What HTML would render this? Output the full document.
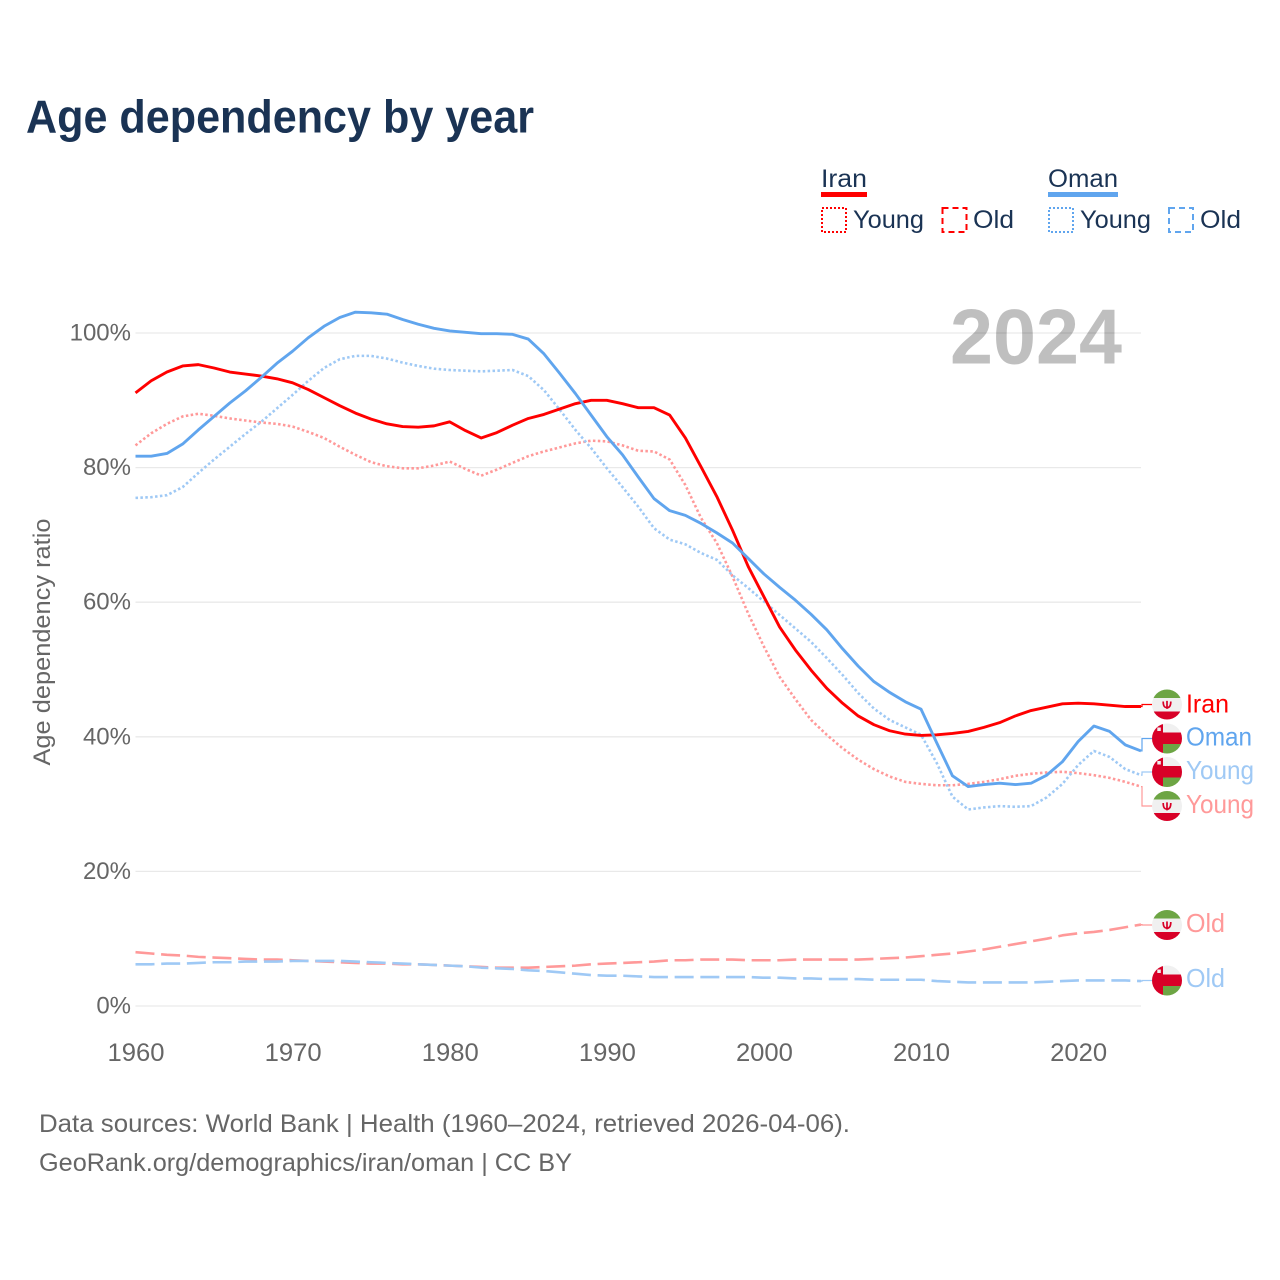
<!DOCTYPE html>
<html lang="en">
<head>
<meta charset="utf-8">
<title>Age dependency by year</title>
<style>
html,body{margin:0;padding:0;background:#fff;}
svg{display:block;}
text{font-family:"Liberation Sans",sans-serif;}
</style>
</head>
<body>
<svg id="chart" xmlns="http://www.w3.org/2000/svg" width="1280" height="1280" viewBox="0 0 1280 1280">
  <defs>
    <clipPath id="flag-clip"><circle cx="0" cy="0" r="15"/></clipPath>
    <g id="flag-iran">
      <g clip-path="url(#flag-clip)">
        <rect x="-15" y="-15" width="30" height="30" fill="#f0f0f0"/>
        <rect x="-15" y="-15" width="30" height="8.5" fill="#6da544"/>
        <rect x="-15" y="7" width="30" height="8" fill="#d80027"/>
        <path d="M-3.8 -3 C-3.8 2.4 -1.8 3.2 0 3.2 C1.8 3.2 3.8 2.4 3.8 -3 M0 -3.6 V4.4" fill="none" stroke="#d80027" stroke-width="1.7"/>
      </g>
    </g>
    <g id="flag-oman">
      <g clip-path="url(#flag-clip)">
        <rect x="-15" y="-15" width="30" height="30" fill="#f0f0f0"/>
        <rect x="-15" y="-15" width="11" height="30" fill="#d80027"/>
        <rect x="-4" y="-6" width="19" height="11.5" fill="#d80027"/>
        <rect x="-4" y="5.5" width="19" height="10" fill="#6da544"/>
        <rect x="-9.7" y="-11" width="3.5" height="3.5" fill="#f0f0f0"/>
      </g>
    </g>
  </defs>

  <rect x="0" y="0" width="1280" height="1280" fill="#ffffff"/>

  <text x="26" y="132.5" font-size="46" font-weight="700" fill="#1a3354" textLength="508" lengthAdjust="spacingAndGlyphs">Age dependency by year</text>

  <g>
    <text x="821" y="187" font-size="25" fill="#1a3354" textLength="46" lengthAdjust="spacingAndGlyphs">Iran</text>
    <rect x="821" y="192" width="46" height="5" fill="#ff0000"/>
    <rect x="822" y="208" width="24" height="24" fill="none" stroke="#ff0000" stroke-width="2" stroke-dasharray="2 2"/>
    <text x="853" y="228" font-size="25" fill="#1a3354" textLength="71" lengthAdjust="spacingAndGlyphs">Young</text>
    <rect x="942.5" y="208" width="24" height="24" fill="none" stroke="#ff0000" stroke-width="2" stroke-dasharray="6 4"/>
    <text x="973" y="228" font-size="25" fill="#1a3354" textLength="41" lengthAdjust="spacingAndGlyphs">Old</text>

    <text x="1048" y="187" font-size="25" fill="#1a3354" textLength="70" lengthAdjust="spacingAndGlyphs">Oman</text>
    <rect x="1048" y="192" width="70" height="5" fill="#60a5ee"/>
    <rect x="1049" y="208" width="24" height="24" fill="none" stroke="#60a5ee" stroke-width="2" stroke-dasharray="2 2"/>
    <text x="1080" y="228" font-size="25" fill="#1a3354" textLength="71" lengthAdjust="spacingAndGlyphs">Young</text>
    <rect x="1169" y="208" width="24" height="24" fill="none" stroke="#60a5ee" stroke-width="2" stroke-dasharray="6 4"/>
    <text x="1200" y="228" font-size="25" fill="#1a3354" textLength="41" lengthAdjust="spacingAndGlyphs">Old</text>
  </g>

  <g id="grid"></g>
  <text x="1122" y="363.5" font-size="78" font-weight="700" fill="#000000" fill-opacity="0.25" text-anchor="end" textLength="172" lengthAdjust="spacingAndGlyphs">2024</text>
  <g id="y-ticks"></g>
  <g id="x-ticks"></g>
  <text transform="translate(50,642) rotate(-90)" font-size="24" fill="#666666" text-anchor="middle" textLength="247" lengthAdjust="spacingAndGlyphs">Age dependency ratio</text>

  <g id="series"></g>
  <g id="end-labels"></g>

  <text x="39" y="1132" font-size="25" fill="#666666" textLength="811" lengthAdjust="spacingAndGlyphs">Data sources: World Bank | Health (1960–2024, retrieved 2026-04-06).</text>
  <text x="39" y="1171" font-size="25" fill="#666666" textLength="533" lengthAdjust="spacingAndGlyphs">GeoRank.org/demographics/iran/oman | CC BY</text>
</svg>

<script>
const years = [1960,1961,1962,1963,1964,1965,1966,1967,1968,1969,1970,1971,1972,1973,1974,1975,1976,1977,1978,1979,1980,1981,1982,1983,1984,1985,1986,1987,1988,1989,1990,1991,1992,1993,1994,1995,1996,1997,1998,1999,2000,2001,2002,2003,2004,2005,2006,2007,2008,2009,2010,2011,2012,2013,2014,2015,2016,2017,2018,2019,2020,2021,2022,2023,2024];
const xTickYears = [1960,1970,1980,1990,2000,2010,2020];
const yTickValues = [0,20,40,60,80,100];
const iranTotal = [91.1,92.9,94.2,95.1,95.3,94.8,94.2,93.9,93.6,93.2,92.6,91.6,90.4,89.2,88.1,87.2,86.5,86.1,86.0,86.2,86.8,85.5,84.4,85.2,86.3,87.3,87.9,88.7,89.5,90.0,90.0,89.5,88.9,88.9,87.8,84.4,80.1,75.7,70.7,65.3,60.8,56.3,52.9,49.9,47.2,45.0,43.1,41.8,40.9,40.4,40.2,40.3,40.5,40.8,41.4,42.1,43.1,43.9,44.4,44.9,45.0,44.9,44.7,44.5,44.5];
const iranYoung = [83.3,85.1,86.5,87.6,88.0,87.7,87.3,87.0,86.7,86.5,86.1,85.3,84.4,83.1,81.9,80.8,80.2,79.9,79.9,80.3,80.9,79.8,78.8,79.7,80.7,81.7,82.4,83.0,83.6,84.0,83.9,83.3,82.5,82.4,81.2,77.4,72.5,68.8,63.8,58.3,53.4,48.9,45.6,42.5,40.3,38.3,36.6,35.2,34.1,33.3,33.0,32.8,32.8,33.0,33.3,33.7,34.2,34.5,34.7,34.8,34.6,34.3,33.9,33.3,32.6];
const iranOld = [8.0,7.8,7.6,7.5,7.3,7.2,7.1,7.0,6.9,6.9,6.8,6.7,6.6,6.5,6.4,6.3,6.3,6.2,6.2,6.1,6.0,5.9,5.8,5.7,5.7,5.7,5.8,5.9,6.0,6.2,6.3,6.4,6.5,6.6,6.8,6.8,6.9,6.9,6.9,6.8,6.8,6.8,6.9,6.9,6.9,6.9,6.9,7.0,7.1,7.2,7.4,7.6,7.8,8.1,8.4,8.8,9.2,9.6,10.0,10.5,10.8,11.0,11.3,11.7,12.1];
const omanTotal = [81.7,81.7,82.1,83.5,85.6,87.6,89.6,91.4,93.4,95.5,97.3,99.3,101.0,102.3,103.1,103.0,102.8,102.0,101.3,100.7,100.3,100.1,99.9,99.9,99.8,99.1,96.9,94.0,91.0,87.8,84.6,81.9,78.6,75.4,73.6,72.9,71.7,70.3,68.8,66.5,64.2,62.2,60.3,58.2,55.9,53.1,50.5,48.2,46.6,45.2,44.1,39.1,34.2,32.6,32.9,33.1,32.9,33.1,34.3,36.3,39.3,41.6,40.8,38.8,37.9];
const omanYoung = [75.5,75.6,75.9,77.1,79.2,81.2,83.1,85.0,86.8,88.8,90.8,92.9,94.8,96.1,96.6,96.6,96.2,95.6,95.1,94.7,94.5,94.4,94.3,94.4,94.5,93.6,91.5,88.6,85.6,82.9,79.9,77.1,74.2,71.0,69.3,68.6,67.3,66.3,64.0,62.1,60.1,58.1,56.1,54.1,51.7,49.2,46.5,44.2,42.5,41.4,40.3,36.1,31.1,29.2,29.5,29.7,29.6,29.7,31.0,33.0,35.8,37.9,37.0,35.2,34.3];
const omanOld = [6.2,6.2,6.3,6.3,6.4,6.5,6.5,6.6,6.6,6.6,6.7,6.7,6.7,6.7,6.6,6.5,6.4,6.3,6.2,6.1,6.0,5.9,5.7,5.6,5.5,5.3,5.2,5.0,4.8,4.6,4.5,4.5,4.4,4.3,4.3,4.3,4.3,4.3,4.3,4.3,4.2,4.2,4.1,4.1,4.0,4.0,4.0,3.9,3.9,3.9,3.9,3.7,3.6,3.5,3.5,3.5,3.5,3.5,3.6,3.7,3.8,3.8,3.8,3.8,3.7];

const SVG_NS = 'http://www.w3.org/2000/svg';
const X0 = 135.5, X1 = 1141, Y0 = 1006, YPerUnit = 6.73;
function xScale(year) { return X0 + (year - 1960) * (X1 - X0) / 64; }
function yScale(value) { return Y0 - value * YPerUnit; }
function make(tag) { return document.createElementNS(SVG_NS, tag); }

const gridGroup = document.getElementById('grid');
const yTickGroup = document.getElementById('y-ticks');
yTickValues.forEach(function (v) {
  const line = make('line');
  line.setAttribute('x1', X0);
  line.setAttribute('x2', X1);
  line.setAttribute('y1', yScale(v));
  line.setAttribute('y2', yScale(v));
  line.setAttribute('stroke', '#e9e9e9');
  line.setAttribute('stroke-width', '1.3');
  
  
  gridGroup.appendChild(line);
  const label = make('text');
  label.setAttribute('x', 131);
  label.setAttribute('y', yScale(v) + 7.5);
  label.setAttribute('text-anchor', 'end');
  label.setAttribute('font-size', '24');
  label.setAttribute('fill', '#666666');
  
  
  label.textContent = v + '%';
  yTickGroup.appendChild(label);
});

const xTickGroup = document.getElementById('x-ticks');
xTickYears.forEach(function (yr) {
  const label = make('text');
  label.setAttribute('x', xScale(yr) + 0.5);
  label.setAttribute('y', 1061);
  label.setAttribute('text-anchor', 'middle');
  label.setAttribute('font-size', '25');
  label.setAttribute('fill', '#666666');
  label.setAttribute('textLength', '57');
  label.setAttribute('lengthAdjust', 'spacingAndGlyphs');
  
  
  label.textContent = yr;
  xTickGroup.appendChild(label);
});

function linePath(values) {
  return values.map(function (v, i) {
    return (i ? 'L' : 'M') + xScale(years[i]).toFixed(2) + ' ' + yScale(v).toFixed(2);
  }).join(' ');
}

function drawLine(values, color, width, dash, name) {
  const path = make('path');
  path.setAttribute('d', linePath(values));
  path.setAttribute('fill', 'none');
  path.setAttribute('stroke', color);
  path.setAttribute('stroke-width', width);
  path.setAttribute('stroke-linejoin', 'round');
  if (dash) path.setAttribute('stroke-dasharray', dash);
  
  
  document.getElementById('series').appendChild(path);
}

drawLine(iranOld, '#ff9999', 2.6, '19 6.7', 'line-iran-old');
drawLine(omanOld, '#9fc9f5', 2.6, '19 6.7', 'line-oman-old');
drawLine(iranYoung, '#ff9999', 2.6, '2.5 2.4', 'line-iran-young');
drawLine(omanYoung, '#9fc9f5', 2.6, '2.5 2.4', 'line-oman-young');
drawLine(iranTotal, '#ff0000', 2.9, '', 'line-iran-total');
drawLine(omanTotal, '#60a5ee', 2.9, '', 'line-oman-total');

function drawEndLabel(values, labelY, textY, flag, color, text, width, name) {
  const g = document.getElementById('end-labels');
  const endY = yScale(values[values.length - 1]);
  const connector = make('path');
  connector.setAttribute('d', 'M' + X1 + ' ' + endY.toFixed(2) + ' H' + (X1 + 1) + ' V' + labelY + ' H1152');
  connector.setAttribute('fill', 'none');
  connector.setAttribute('stroke', color);
  connector.setAttribute('stroke-width', '1.2');
  
  
  g.appendChild(connector);
  const badge = make('use');
  badge.setAttribute('href', '#' + flag);
  badge.setAttribute('transform', 'translate(1167,' + labelY + ')');
  
  
  g.appendChild(badge);
  const label = make('text');
  label.setAttribute('x', 1186);
  label.setAttribute('y', textY);
  label.setAttribute('font-size', '26');
  label.setAttribute('fill', color);
  label.setAttribute('textLength', width);
  label.setAttribute('lengthAdjust', 'spacingAndGlyphs');
  
  
  label.textContent = text;
  g.appendChild(label);
}

drawEndLabel(iranTotal, 704.5, 712.5, 'flag-iran', '#ff0000', 'Iran', 43, 'end-iran-total');
drawEndLabel(omanTotal, 738.5, 745.5, 'flag-oman', '#60a5ee', 'Oman', 66, 'end-oman-total');
drawEndLabel(omanYoung, 772, 779, 'flag-oman', '#9fc9f5', 'Young', 68, 'end-oman-young');
drawEndLabel(iranYoung, 806, 813, 'flag-iran', '#ff9999', 'Young', 68, 'end-iran-young');
drawEndLabel(iranOld, 925, 932, 'flag-iran', '#ff9999', 'Old', 39, 'end-iran-old');
drawEndLabel(omanOld, 980.5, 987, 'flag-oman', '#9fc9f5', 'Old', 39, 'end-oman-old');
</script>
</body>
</html>
